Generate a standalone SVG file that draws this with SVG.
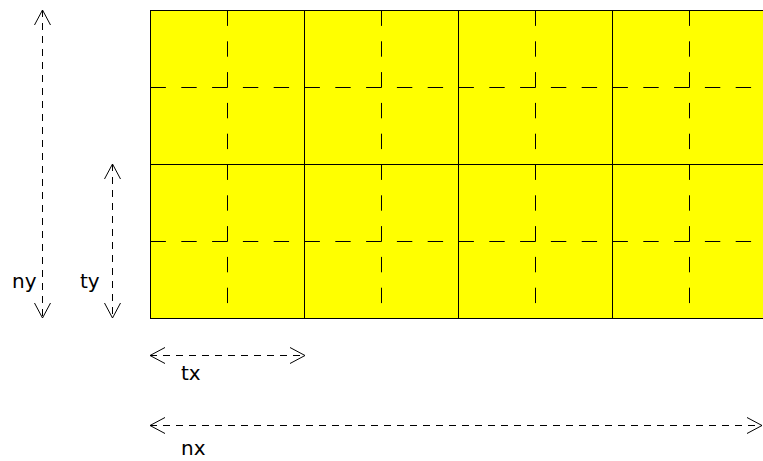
<svg xmlns="http://www.w3.org/2000/svg" width="763" height="461" viewBox="0 0 763 461">
<style>
.tile{fill:#ffff00;stroke:#000;stroke-width:1}
.mid{stroke:#000;stroke-width:1;stroke-dasharray:15.4 15.4;fill:none}
.dim{stroke:#000;stroke-width:1;stroke-dasharray:7 6;fill:none;marker-start:url(#ah);marker-end:url(#ah)}
.lbl{font-family:"DejaVu Sans",sans-serif;font-size:20px;fill:#000}
</style>
<defs>
<marker id="ah" markerUnits="userSpaceOnUse" viewBox="-16 -9 17 18" refX="0" refY="0" markerWidth="17" markerHeight="18" orient="auto-start-reverse">
<path d="M-15,-8 L0,0 L-15,8" fill="none" stroke="#000" stroke-width="1" stroke-dasharray="none"/>
</marker>
<g id="tileShape">
<rect class="tile" x="0" y="0" width="154" height="154"/>
<line class="mid" x1="0" y1="77" x2="154" y2="77"/>
<line class="mid" x1="77" y1="0" x2="77" y2="154"/>
</g>
</defs>
<g id="tiles">
<g id="tile-0-0"><use href="#tileShape" x="150.5" y="10.5"/></g>
<g id="tile-0-1"><use href="#tileShape" x="304.5" y="10.5"/></g>
<g id="tile-0-2"><use href="#tileShape" x="458.5" y="10.5"/></g>
<g id="tile-0-3"><use href="#tileShape" x="612.5" y="10.5"/></g>
<g id="tile-1-0"><use href="#tileShape" x="150.5" y="164.5"/></g>
<g id="tile-1-1"><use href="#tileShape" x="304.5" y="164.5"/></g>
<g id="tile-1-2"><use href="#tileShape" x="458.5" y="164.5"/></g>
<g id="tile-1-3"><use href="#tileShape" x="612.5" y="164.5"/></g>
</g>
<g id="connectors">
<line id="dim-ny" class="dim" x1="42.5" y1="10" x2="42.5" y2="318"/>
<line id="dim-ty" class="dim" x1="112.5" y1="164" x2="112.5" y2="318"/>
<line id="dim-tx" class="dim" x1="150" y1="355.5" x2="305" y2="355.5"/>
<line id="dim-nx" class="dim" x1="150" y1="425.5" x2="762" y2="425.5"/>
</g>
<g id="labels">
<text class="lbl" x="12" y="288">ny</text>
<text class="lbl" x="80" y="288">ty</text>
<text class="lbl" x="181" y="380">tx</text>
<text class="lbl" x="181" y="455">nx</text>
</g>
</svg>
